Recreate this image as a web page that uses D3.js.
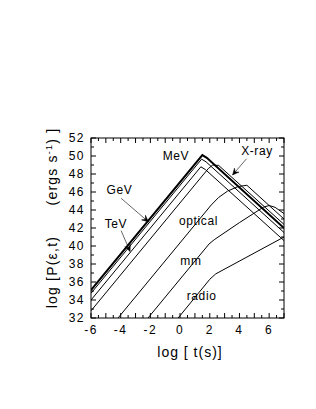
<!DOCTYPE html>
<html>
<head>
<meta charset="utf-8">
<script src="https://cdn.jsdelivr.net/npm/d3@7"></script>
<style>
body { margin: 0; background: #fff; }
text { font-family: "Liberation Sans", Arial, sans-serif; fill: #000; }
</style>
</head>
<body>
<script>
// light curves, log t vs log P, one array per band
var mevCurve = [[-6,35.1],[1.5,50.1],[1.8,49.8],[7,42.0]];
var gevCurve = [[-6,34.75],[1.45,49.65],[1.75,49.35],[7,41.5]];
var tevCurve = [[-6,34.0],[1.4,48.8],[1.7,48.5],[7,40.6]];
var xrayCurve = [[-6,32.8],[1.9,48.6],[2.2,49.0],[2.6,48.95],[7,42.4]];
var opticalCurve = [[-4.18,32],[2.1,44.56],[2.6,45.4],[3.2,46.1],[3.9,46.6],[4.5,46.75],[7,43.0]];
var mmCurve = [[-2.16,32],[1.95,40.22],[2.3,40.7],[4.0,42.6],[5.6,44.3],[6.0,44.5],[6.4,44.3],[7,43.6]];
var radioCurve = [[-0.13,32],[2.0,36.3],[2.4,36.9],[7,41.0]];

var xTicks = [-6,-4,-2,0,2,4,6];
var yTicks = [32,34,36,38,40,42,44,46,48,50,52];

var width = 316, height = 409;
var margin = {left: 91, right: 32, top: 138, bottom: 91};

var svg = d3.select("body").append("svg")
    .attr("width", width)
    .attr("height", height);

var x = d3.scaleLinear().domain([-6, 7]).range([margin.left, width - margin.right]);
var y = d3.scaleLinear().domain([32, 52]).range([height - margin.bottom, margin.top]);

svg.append("defs").append("clipPath").attr("id", "plotClip")
  .append("rect")
    .attr("x", x(-6)).attr("y", y(52))
    .attr("width", x(7) - x(-6)).attr("height", y(32) - y(52));

//ticks, all pointing inward
var minorX = d3.range(-6, 7.01, 0.5), minorY = d3.range(32, 52.01, 1);
var tickG = svg.append("g").attr("stroke", "#000").attr("stroke-width", 1);
minorX.forEach(function(v) {
  var len = (v % 1 === 0) ? 5 : 3;
  tickG.append("line").attr("x1", x(v)).attr("x2", x(v)).attr("y1", y(32)).attr("y2", y(32) - len);
  tickG.append("line").attr("x1", x(v)).attr("x2", x(v)).attr("y1", y(52)).attr("y2", y(52) + len);
});
minorY.forEach(function(v) {
  var len = (v % 2 === 0) ? 5 : 3;
  tickG.append("line").attr("y1", y(v)).attr("y2", y(v)).attr("x1", x(-6)).attr("x2", x(-6) + len);
  tickG.append("line").attr("y1", y(v)).attr("y2", y(v)).attr("x1", x(7)).attr("x2", x(7) - len);
});

svg.append("rect")
    .attr("x", x(-6)).attr("y", y(52))
    .attr("width", x(7) - x(-6)).attr("height", y(32) - y(52))
    .attr("fill", "none").attr("stroke", "#000").attr("stroke-width", 1);

//tick labels
svg.selectAll(".xl").data(xTicks).enter().append("text")
    .attr("x", function(d) { return x(d); })
    .attr("y", y(32) + 16)
    .attr("text-anchor", "middle")
    .style("font-size", "12px").style("letter-spacing", "1.5px")
    .text(function(d) { return d; });

svg.selectAll(".yl").data(yTicks).enter().append("text")
    .attr("x", x(-6) - 6)
    .attr("y", function(d) { return y(d) + 4; })
    .attr("text-anchor", "end")
    .style("font-size", "12px").style("letter-spacing", "1.5px")
    .text(function(d) { return d; });

//axis titles
svg.append("text")
    .attr("x", 190).attr("y", 357)
    .attr("text-anchor", "middle")
    .style("font-size", "14px").style("letter-spacing", "1px")
    .style("white-space", "pre")
    .text("log [ t(s)]");

var yt = svg.append("text")
    .attr("transform", "translate(57,218) rotate(-90)")
    .attr("text-anchor", "middle")
    .style("font-size", "14px").style("letter-spacing", "1.2px")
    .style("white-space", "pre");
yt.append("tspan").text("log [P(\u03b5,t)      (ergs s");
yt.append("tspan").attr("dy", -5).style("font-size", "9px").text("-1");
yt.append("tspan").attr("dy", 5).text(") ]");

//curves
var line = d3.line()
    .x(function(d) { return x(d[0]); })
    .y(function(d) { return y(d[1]); });

var curves = [
  {data: mevCurve, w: 2},
  {data: gevCurve, w: 1},
  {data: tevCurve, w: 1},
  {data: xrayCurve, w: 1},
  {data: opticalCurve, w: 1},
  {data: mmCurve, w: 1},
  {data: radioCurve, w: 1}
];
svg.append("g").attr("clip-path", "url(#plotClip)")
  .selectAll("path").data(curves).enter().append("path")
    .attr("d", function(d) { return line(d.data); })
    .attr("fill", "none")
    .attr("stroke", "#000")
    .attr("stroke-width", function(d) { return d.w; });

//band labels
var labels = [
  {t: "MeV", x: -0.28, y: 49.6},
  {t: "GeV", x: -4.08, y: 45.8},
  {t: "TeV", x: -4.32, y: 42.0},
  {t: "X-ray", x: 5.18, y: 50.1},
  {t: "optical", x: 1.24, y: 42.3},
  {t: "mm", x: 0.73, y: 37.9},
  {t: "radio", x: 1.45, y: 34.0}
];
svg.selectAll(".bl").data(labels).enter().append("text")
    .attr("x", function(d) { return x(d.x); })
    .attr("y", function(d) { return y(d.y); })
    .attr("text-anchor", "middle")
    .style("font-size", "12px").style("letter-spacing", "0.6px")
    .text(function(d) { return d.t; });

//pointer arrows: [from, to] in data units
var arrows = [
  [[-3.97, 45.3], [-2.14, 42.7]],
  [[-3.97, 41.7], [-3.37, 39.4]],
  [[4.48, 49.7], [3.54, 47.9]]
];
arrows.forEach(function(a) {
  var x0 = x(a[0][0]), y0 = y(a[0][1]), x1 = x(a[1][0]), y1 = y(a[1][1]);
  svg.append("line").attr("x1", x0).attr("y1", y0).attr("x2", x1).attr("y2", y1)
      .attr("stroke", "#000").attr("stroke-width", 0.6);
  var ang = Math.atan2(y1 - y0, x1 - x0), L = 7, s = 0.45;
  var p1 = [x1 - L * Math.cos(ang - s), y1 - L * Math.sin(ang - s)];
  var p2 = [x1 - L * Math.cos(ang + s), y1 - L * Math.sin(ang + s)];
  var pm = [x1 - 0.55 * L * Math.cos(ang), y1 - 0.55 * L * Math.sin(ang)];
  svg.append("path")
      .attr("d", "M" + p1 + "L" + x1 + "," + y1 + "L" + p2 + "L" + pm + "Z")
      .attr("fill", "#000").attr("stroke", "#000").attr("stroke-width", 0.5);
});
</script>
</body>
</html>
